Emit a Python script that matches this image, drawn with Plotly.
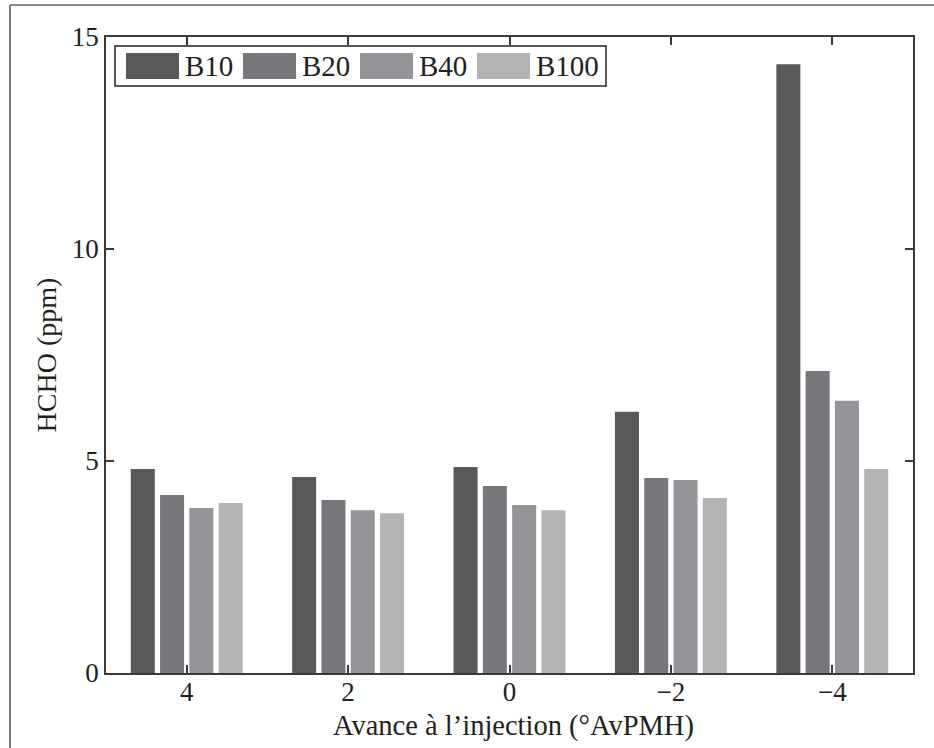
import plotly.graph_objects as go

# Injection advance (°AvPMH) categories and HCHO emissions (ppm) per blend
advance = ["4", "2", "0", "\u22122", "\u22124"]
series_names = ["B10", "B20", "B40", "B100"]
b10 = [4.81, 4.62, 4.86, 6.16, 14.36]
b20 = [4.20, 4.08, 4.41, 4.60, 7.12]
b40 = [3.89, 3.84, 3.96, 4.55, 6.42]
b100 = [4.01, 3.77, 3.84, 4.13, 4.81]
y_ticks = [0, 5, 10, 15]

colors = ["#58595b", "#77787c", "#949598", "#b2b3b5"]
values = [b10, b20, b40, b100]

W, H = 934, 748
ML, MR, MT, MB = 106, 21, 37, 75
PW, PH = W - ML - MR, H - MT - MB

FONT = "Liberation Serif, Times New Roman, serif"
TXT = "#231f20"
AX = "#3a3a3a"

fig = go.Figure()
for name, vals, col in zip(series_names, values, colors):
    fig.add_trace(go.Bar(x=advance, y=vals, name=name, marker=dict(color=col, line=dict(width=0)),
                         showlegend=False))


def px(x):
    return (x - ML) / PW


def py(y):
    return (H - MB - y) / PH


shapes = []
annotations = []

# legend frame
shapes.append(dict(type="rect", xref="paper", yref="paper",
                   x0=px(115), x1=px(606), y0=py(86), y1=py(46),
                   line=dict(color="#222", width=1.5), fillcolor="white", layer="above"))
sw_left = [126, 243, 360, 477]
for name, col, xl in zip(series_names, colors, sw_left):
    shapes.append(dict(type="rect", xref="paper", yref="paper",
                       x0=px(xl), x1=px(xl + 53), y0=py(79), y1=py(53),
                       line=dict(width=0), fillcolor=col, layer="above"))
    annotations.append(dict(xref="paper", yref="paper", x=px(xl + 57), y=py(66),
                            text=name, showarrow=False, xanchor="left", yanchor="middle",
                            font=dict(family=FONT, size=29, color=TXT)))

# x-axis title, set just under the tick labels
annotations.append(dict(xref="paper", yref="paper", x=px(513), y=py(726),
                        text="Avance à l\u2019injection (°AvPMH)", showarrow=False,
                        xanchor="center", yanchor="middle",
                        font=dict(family=FONT, size=28.5, color=TXT)))

# outer page frame (top and left edges)
shapes.append(dict(type="line", xref="paper", yref="paper",
                   x0=px(10), x1=px(934), y0=py(5), y1=py(5),
                   line=dict(color="#8c8c8c", width=2)))
shapes.append(dict(type="line", xref="paper", yref="paper",
                   x0=px(10), x1=px(10), y0=py(5), y1=py(748),
                   line=dict(color="#555555", width=1.5)))

fig.update_layout(
    width=W, height=H,
    margin=dict(l=ML, r=MR, t=MT, b=MB, pad=0),
    paper_bgcolor="white", plot_bgcolor="white",
    barmode="group", bargap=0.274, bargroupgap=0.18,
    font=dict(family=FONT, size=27, color=TXT),
    shapes=shapes, annotations=annotations,
    xaxis=dict(
        type="category", range=[-0.5, 4.5], showgrid=False, zeroline=False,
        showline=True, linecolor=AX, linewidth=1.5, mirror="ticks",
        ticks="inside", ticklen=8, tickwidth=1.5, tickcolor=AX,
        ticklabelstandoff=-6,
        tickfont=dict(family=FONT, size=27, color=TXT),
    ),
    yaxis=dict(
        range=[0, 15], tickvals=y_ticks, showgrid=False, zeroline=False,
        showline=True, linecolor=AX, linewidth=1.5, mirror="ticks",
        ticks="inside", ticklen=8, tickwidth=1.5, tickcolor=AX,
        tickfont=dict(family=FONT, size=27, color=TXT),
        title=dict(text="HCHO (ppm)", standoff=7,
                   font=dict(family=FONT, size=28, color=TXT)),
    ),
)

fig.write_html("out.html")
